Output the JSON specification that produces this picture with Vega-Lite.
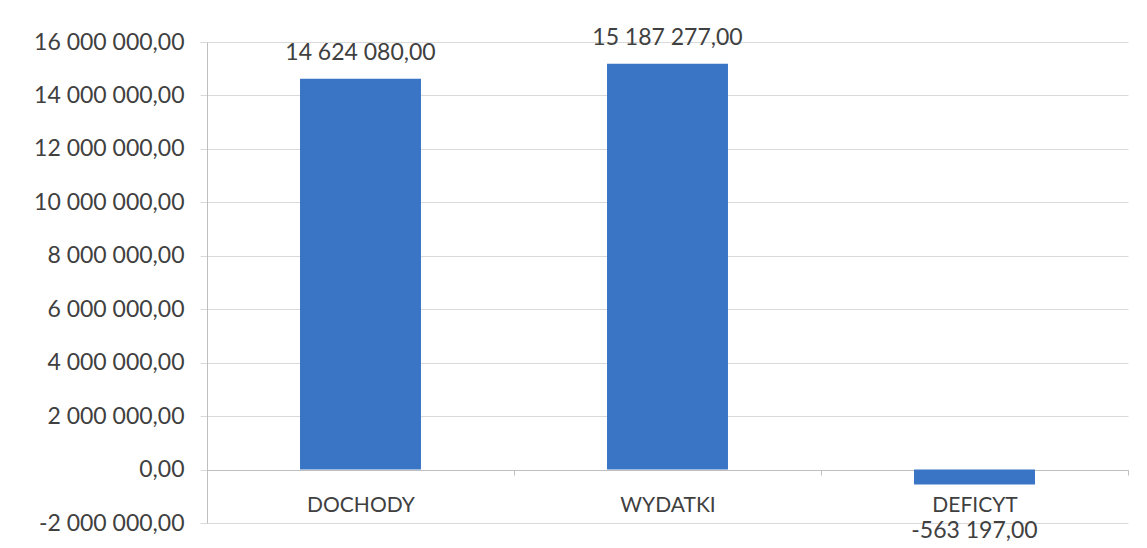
{
  "$schema": "https://vega.github.io/schema/vega-lite/v6.json",
  "width": 921,
  "height": 481,
  "autosize": "none",
  "padding": {"left": 207, "top": 42, "right": 19, "bottom": 25},
  "background": "white",
  "config": {
    "locale": {"number": {"decimal": ",", "thousands": " ", "grouping": [3], "currency": ["", ""], "minus": "-"}},
    "view": {"stroke": null},
    "font": "Lato"
  },
  "data": {"values": [
    {"kategoria": "DOCHODY", "wartosc": 14624080},
    {"kategoria": "WYDATKI", "wartosc": 15187277},
    {"kategoria": "DEFICYT", "wartosc": -563197}
  ]},
  "encoding": {
    "x": {
      "field": "kategoria", "type": "nominal", "sort": null,
      "scale": {"paddingInner": 0, "paddingOuter": 0},
      "axis": {
        "title": null, "orient": "bottom", "offset": -53, "labelAngle": 0,
        "tickBand": "extent", "domainColor": "#bfbfbf", "tickColor": "#bfbfbf",
        "tickSize": 5, "labelFontSize": 21, "labelColor": "#404040",
        "labelPadding": 19, "labelBaseline": "top"
      }
    },
    "y": {
      "field": "wartosc", "type": "quantitative",
      "scale": {"domain": [-2000000, 16000000], "nice": false, "zero": false},
      "axis": {
        "title": null,
        "values": [-2000000, 0, 2000000, 4000000, 6000000, 8000000, 10000000, 12000000, 14000000, 16000000],
        "format": ",.2f", "grid": true, "gridColor": "#d9d9d9",
        "domainColor": "#bfbfbf", "tickColor": "#d9d9d9", "tickSize": 7,
        "labelFontSize": 23, "labelColor": "#404040", "labelPadding": 16
      }
    }
  },
  "layer": [
    {"mark": {"type": "bar", "color": "#3a74c4", "width": {"band": 0.394}}},
    {
      "transform": [{"filter": "datum.wartosc > 0"}],
      "mark": {"type": "text", "baseline": "bottom", "dy": -14, "fontSize": 23, "color": "#404040"},
      "encoding": {"text": {"field": "wartosc", "type": "quantitative", "format": ",.2f"}}
    },
    {
      "transform": [{"filter": "datum.wartosc < 0"}],
      "mark": {"type": "text", "baseline": "top", "dy": 35, "fontSize": 23, "color": "#404040"},
      "encoding": {"text": {"field": "wartosc", "type": "quantitative", "format": ",.2f"}}
    }
  ]
}
